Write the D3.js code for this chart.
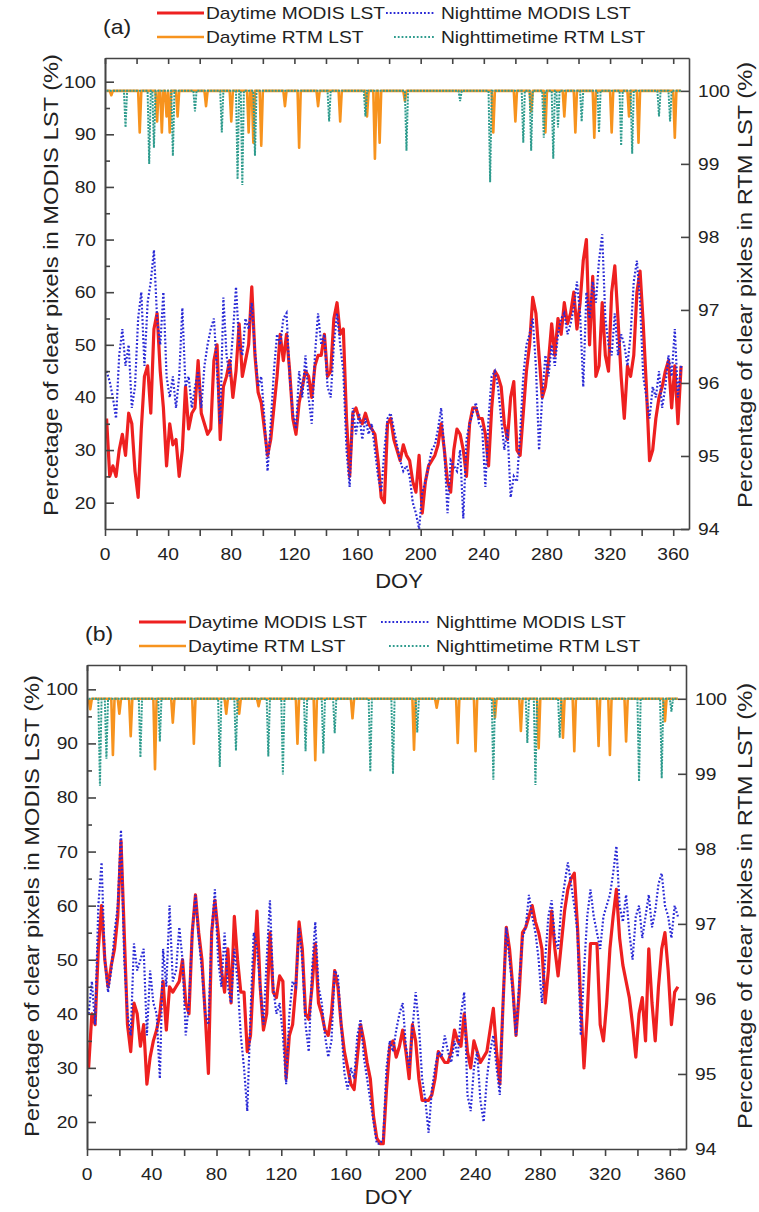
<!DOCTYPE html>
<html>
<head>
<meta charset="utf-8">
<script src="https://d3js.org/d3.v7.min.js"></script>
<style>
body { margin: 0; background: #fff; }
text { font-family: "Liberation Sans", Arial, sans-serif; fill: #222; }
</style>
</head>
<body>
<svg id="chart" width="759" height="1212"></svg>
<script>
// day of year for the MODIS series (every second day)
var doy = d3.range(1, 366, 2);

// (a) percentage of clear pixels, MODIS LST
var dayModisA = [
  36,25,27,25,30,33,29,37,35,26, 21,34,44,46,37,53,56,45,38,27,
  35,31,32,25,30,42,34,37,38,47, 37,35,33,34,47,50,32,42,44,47,
  40,45,54,44,47,50,61,48,41,39, 34,29,32,38,44,52,47,52,45,36,
  33,39,42,45,44,40,46,48,48,52, 44,45,55,58,52,53,36,25,37,38,
  36,35,37,35,34,33,28,21,20,35, 36,32,30,28,31,29,28,24,22,29,
  18,24,27,28,29,31,35,30,24,22, 30,34,33,30,25,35,38,38,36,36,
  33,27,38,45,44,42,35,32,40,43, 30,29,37,45,50,59,56,48,40,42,
  47,54,48,55,52,58,54,56,60,53, 58,66,70,50,63,44,46,58,48,45,
  60,65,55,44,36,46,44,48,60,64, 54,42,28,30,36,40,42,45,47,38,
  46,35,46];
var nightModisA = [
  45,43,40,36,48,53,46,50,38,42, 55,60,46,58,62,68,55,50,60,44,
  40,44,38,44,57,42,44,38,42,45, 38,46,50,53,55,45,35,59,48,44,
  52,61,50,48,55,53,58,49,42,44, 36,26,35,45,52,50,55,56,44,37,
  34,45,40,48,40,35,48,56,50,52, 42,40,50,56,50,45,30,23,38,33,
  37,32,36,33,35,30,25,22,30,36, 37,34,31,28,26,27,25,20,18,15,
  22,24,27,30,31,34,38,30,18,28, 27,26,30,17,32,35,37,39,35,34,
  23,36,44,45,42,36,30,34,21,25, 24,33,44,50,52,55,46,30,40,48,
  44,50,46,52,55,56,52,54,57,62, 56,42,60,55,62,58,66,71,55,50,
  48,56,48,52,50,46,52,62,66,58, 44,40,36,42,40,45,38,42,48,44,
  53,40,46];

// (b) percentage of clear pixels, MODIS LST
var dayModisB = [
  30,40,38,52,60,50,45,49,52,58, 72,55,38,33,42,40,34,38,27,32,
  35,37,40,46,37,45,44,45,46,50, 42,40,55,62,55,50,40,29,55,61,
  55,48,44,52,42,58,50,44,44,33, 36,48,59,45,37,40,55,44,43,47,
  46,28,36,38,45,57,52,40,39,45, 53,42,40,37,36,40,48,45,38,33,
  30,27,26,32,38,35,31,28,21,17, 16,16,26,34,35,32,34,37,33,28,
  38,35,28,24,24,24,25,28,33,32, 31,31,33,37,35,34,40,33,30,35,
  33,31,32,33,37,41,33,27,42,56, 52,45,36,44,55,56,58,60,57,55,
  52,42,48,59,52,47,53,59,63,65, 66,56,42,30,40,53,53,53,38,35,
  42,52,58,63,54,49,46,43,38,32, 40,43,35,52,42,35,45,52,55,48,
  38,44,45];
var nightModisB = [
  40,46,38,60,68,50,44,48,55,60, 74,50,40,36,53,48,50,52,36,48,
  42,40,28,52,45,60,46,48,56,50, 36,42,55,62,54,48,40,38,55,63,
  50,45,55,45,42,52,46,36,30,22, 40,55,52,45,38,50,61,45,40,42,
  36,27,40,46,45,56,50,38,33,48, 57,45,42,36,32,35,48,47,38,29,
  26,30,28,36,39,32,28,24,20,16, 16,17,30,35,33,37,40,42,34,30,
  37,44,38,28,24,18,26,30,33,32, 36,33,31,35,32,40,44,25,22,30,
  33,24,20,28,33,36,30,25,42,56, 50,44,36,46,54,56,62,58,55,50,
  42,50,58,61,54,52,60,64,68,64, 60,55,36,48,58,63,58,55,52,58,
  60,62,66,71,60,57,62,55,50,58, 60,54,58,62,56,59,64,66,60,58,
  54,60,58];

// RTM LST clear-pixel percentage (right axis)
var dayRtmA_doy = [1,3,4,5, 21,22,23, 32,33,34, 35,36,37, 38,39,40,41,42, 45,46,47, 63,64,65,
  79,80,81, 90,91,92, 93,94,95, 98,99,100, 113,114,115, 122,123,124, 134,135,136, 148,149,150,
  165,166,167, 170,171,172, 173,174,175, 189,190,191, 245,246,247, 259,260,261, 269,270,271,
  278,279,280, 290,291,292, 297,298,299, 309,310,311, 320,321,322, 331,332,333, 337,338,339,
  360,361,362, 365];
var dayRtmA = [100,100,99.94,100, 100,99.43,100, 100,99.58,100, 100,99.43,100, 100,99.65,100,99.43,100, 100,99.65,100, 100,99.79,100,
  100,99.58,100, 100,99.43,100, 100,99.29,100, 100,99.25,100, 100,99.79,100, 100,99.22,100, 100,99.79,100, 100,99.58,100,
  100,99.65,100, 100,99.07,100, 100,99.29,100, 100,99.86,100, 100,99.43,100, 100,99.58,100, 100,99.72,100,
  100,99.43,100, 100,99.65,100, 100,99.43,100, 100,99.36,100, 100,99.43,100, 100,99.65,100, 100,99.29,100,
  100,99.36,100, 100];

var nightRtmA_doy = [1, 12,13,14, 27,28,29, 30,31,32, 42,43,44, 56,57,58, 73,74,75, 83,84,85, 86,87,88,
  94,95,96, 141,142,143, 164,165,166, 190,191,192, 224,225,226, 243,244,245, 264,265,266, 269,270,271,
  277,278,279, 283,284,285, 286,287,288, 301,302,303, 312,313,314, 326,327,328, 333,334,335,
  350,351,352, 357,358,359, 365];
var nightRtmA = [100, 100,99.5,100, 100,99.0,100, 100,99.22,100, 100,99.11,100, 100,99.72,100, 100,99.43,100, 100,98.79,100, 100,98.71,100,
  100,99.11,100, 100,99.58,100, 100,99.65,100, 100,99.18,100, 100,99.86,100, 100,98.75,100, 100,99.29,100, 100,99.18,100,
  100,99.36,100, 100,99.07,100, 100,99.5,100, 100,99.58,100, 100,99.43,100, 100,99.25,100, 100,99.14,100,
  100,99.65,100, 100,99.58,100, 100];

var dayRtmB_doy = [1,2,3, 15,16,17, 19,20,21, 26,27,28, 41,42,43, 52,53,54, 65,66,67, 85,86,87, 93,94,95,
  105,106,107, 129,130,131, 140,141,142, 163,164,165, 201,202,203, 215,216,217, 228,229,230, 239,240,241,
  251,252,253, 267,268,269, 278,279,280, 293,294,295, 300,301,302, 315,316,317, 322,323,324, 332,333,334,
  356,357,358, 365];
var dayRtmB = [100,99.86,100, 100,99.25,100, 100,99.8,100, 100,99.5,100, 100,99.06,100, 100,99.68,100, 100,99.4,100, 100,99.8,100, 100,99.8,100,
  100,99.9,100, 100,99.4,100, 100,99.18,100, 100,99.74,100, 100,99.32,100, 100,99.88,100, 100,99.41,100, 100,99.3,100,
  100,99.75,100, 100,99.57,100, 100,99.34,100, 100,99.48,100, 100,99.3,100, 100,99.37,100, 100,99.25,100, 100,99.43,100,
  100,99.7,100, 100];

var nightRtmB_doy = [1, 7,8,9, 11,12,13, 32,33,34, 44,45,46, 81,82,83, 91,92,93, 111,112,113, 120,121,122,
  134,135,136, 145,146,147, 152,153,154, 174,175,176, 188,189,190, 203,204,205, 250,251,252, 271,272,273,
  276,277,278, 291,292,293, 340,341,342, 354,355,356, 360,361,362, 365];
var nightRtmB = [100, 100,98.84,100, 100,99.2,100, 100,99.22,100, 100,99.43,100, 100,99.09,100, 100,99.31,100, 100,99.23,100, 100,98.99,100,
  100,99.3,100, 100,99.27,100, 100,99.54,100, 100,99.03,100, 100,99.0,100, 100,99.55,100, 100,98.92,100, 100,99.41,100,
  100,98.85,100, 100,99.48,100, 100,98.9,100, 100,98.94,100, 100,99.83,100, 100];

var xTicks = [0, 20, 40, 60, 80, 100, 120, 140, 160, 180, 200, 220, 240, 260, 280, 300, 320, 340, 360];
var xLabels = [0, 40, 80, 120, 160, 200, 240, 280, 320, 360];
var leftTicks = [20, 30, 40, 50, 60, 70, 80, 90, 100];
var leftMinor = [25, 35, 45, 55, 65, 75, 85, 95];
var rightTicks = [94, 95, 96, 97, 98, 99, 100];

var legendNames = ["Daytime MODIS LST", "Nighttime MODIS LST", "Daytime RTM LST", "Nighttimetime RTM LST"];

var colors = { day: "#ee2020", night: "#2a2ad6", dayRtm: "#f7931e", nightRtm: "#2f9c8e" };

var svg = d3.select("#chart");

function label(g, x, y, s, size, anchor, sx) {
  return g.append("text")
    .attr("transform", "translate(" + x + "," + y + ") scale(" + (sx || 1.2) + ",1)")
    .attr("font-size", size)
    .attr("text-anchor", anchor || "start")
    .text(s);
}

function drawPanel(p, idx) {
  var g = svg.append("g");
  var x = d3.scaleLinear().domain([0, 370]).range([p.left, p.right]);
  var yL = d3.scaleLinear().domain([15, 104.5]).range([p.bottom, p.top]);
  var yR = d3.scaleLinear().domain([94, 100.45]).range([p.bottom, p.top]);

  g.append("clipPath").attr("id", "clip" + idx)
    .append("rect").attr("x", p.left).attr("y", p.top)
    .attr("width", p.right - p.left).attr("height", p.bottom - p.top);
  var plot = g.append("g").attr("clip-path", "url(#clip" + idx + ")");

  var lineL = d3.line().x(d => x(d[0])).y(d => yL(d[1]));
  var lineR = d3.line().x(d => x(d[0])).y(d => yR(d[1]));

  plot.append("path").datum(d3.zip(p.rtmDay[0], p.rtmDay[1]))
    .attr("d", lineR).attr("fill", "none").attr("stroke", colors.dayRtm)
    .attr("stroke-width", 2.6).attr("stroke-linejoin", "round");
  plot.append("path").datum(d3.zip(p.rtmNight[0], p.rtmNight[1]))
    .attr("d", lineR).attr("fill", "none").attr("stroke", colors.nightRtm)
    .attr("stroke-width", 2).attr("stroke-dasharray", "2,1.2");

  plot.append("path").datum(d3.zip(doy, p.day))
    .attr("d", lineL).attr("fill", "none").attr("stroke", colors.day)
    .attr("stroke-width", 3.2).attr("stroke-linejoin", "round");
  plot.append("path").datum(d3.zip(doy, p.night))
    .attr("d", lineL).attr("fill", "none").attr("stroke", colors.night)
    .attr("stroke-width", 2.2).attr("stroke-dasharray", "1.8,2");

  // axes (frame)
  var axisColor = "#444";
  var axes = [
    g.append("g").attr("transform", "translate(0," + p.bottom + ")")
      .call(d3.axisBottom(x).tickValues(xTicks).tickSize(7).tickSizeOuter(0).tickFormat("")),
    g.append("g").attr("transform", "translate(0," + p.top + ")")
      .call(d3.axisTop(x).tickValues(xTicks).tickSize(-6).tickSizeOuter(0).tickFormat("")),
    g.append("g").attr("transform", "translate(" + p.left + ",0)")
      .call(d3.axisLeft(yL).tickValues(leftTicks).tickSize(-9).tickSizeOuter(0).tickFormat("")),
    g.append("g").attr("transform", "translate(" + p.left + ",0)")
      .call(d3.axisLeft(yL).tickValues(leftMinor).tickSize(-5).tickSizeOuter(0).tickFormat("")),
    g.append("g").attr("transform", "translate(" + p.right + ",0)")
      .call(d3.axisRight(yR).tickValues(rightTicks).tickSize(-8).tickSizeOuter(0).tickFormat(""))
  ];
  axes.forEach(a => {
    a.selectAll("path, line").attr("stroke", axisColor).attr("stroke-width", 1.6);
  });

  xLabels.forEach(v => label(g, x(v), p.bottom + 31, v, 16, "middle"));
  leftTicks.forEach(v => label(g, p.left - 9, yL(v) + 6, v, 16, "end"));
  rightTicks.forEach(v => label(g, p.right + 9, yR(v) + 6, v, 16, "start"));

  label(g, (p.left + p.right) / 2 + 2, p.doyY, "DOY", 20, "middle", 1.1);

  g.append("text")
    .attr("transform", "translate(" + p.titleL + "," + p.titleY + ") rotate(-90)")
    .attr("font-size", 20).attr("text-anchor", "middle")
    .attr("textLength", 462).attr("lengthAdjust", "spacingAndGlyphs")
    .text("Percetage of clear pixels in MODIS LST (%)");
  g.append("text")
    .attr("transform", "translate(" + p.titleR + "," + p.titleY + ") rotate(-90)")
    .attr("font-size", 20).attr("text-anchor", "middle")
    .attr("textLength", 446).attr("lengthAdjust", "spacingAndGlyphs")
    .text("Percentage of clear pixles in RTM LST (%)");

  // legend
  label(g, p.tagX, p.tagY, p.tag, 20, "start", 1.15);
  var lg = [
    {x1: p.legA, x2: p.legA + 47, y: p.legY, c: colors.day, w: 3, dash: null},
    {x1: p.legB, x2: p.legB + 48, y: p.legY, c: colors.night, w: 2, dash: "1.8,2"},
    {x1: p.legA, x2: p.legA + 47, y: p.legY + 24, c: colors.dayRtm, w: 2.6, dash: null},
    {x1: p.legB + 8, x2: p.legB + 48, y: p.legY + 24, c: colors.nightRtm, w: 2, dash: "1.8,2"}
  ];
  lg.forEach((d, i) => {
    g.append("line").attr("x1", d.x1).attr("x2", d.x2).attr("y1", d.y).attr("y2", d.y)
      .attr("stroke", d.c).attr("stroke-width", d.w).attr("stroke-dasharray", d.dash);
    label(g, i % 2 === 0 ? p.legA + 49 : p.legB + 55, d.y + 6, legendNames[i], 16, "start", 1.2);
  });
}

var panels = [
  {tag: "(a)", tagX: 103, tagY: 34, legA: 157, legB: 386, legY: 13,
   left: 105, right: 689, top: 58, bottom: 529,
   doyY: 588, titleL: 58, titleR: 752, titleY: 285,
   day: dayModisA, night: nightModisA,
   rtmDay: [dayRtmA_doy, dayRtmA], rtmNight: [nightRtmA_doy, nightRtmA]},
  {tag: "(b)", tagX: 85, tagY: 641, legA: 139, legB: 381, legY: 622,
   left: 87, right: 686, top: 665, bottom: 1149,
   doyY: 1204, titleL: 39, titleR: 752, titleY: 906,
   day: dayModisB, night: nightModisB,
   rtmDay: [dayRtmB_doy, dayRtmB], rtmNight: [nightRtmB_doy, nightRtmB]}
];

panels.forEach(drawPanel);
</script>
</body>
</html>
